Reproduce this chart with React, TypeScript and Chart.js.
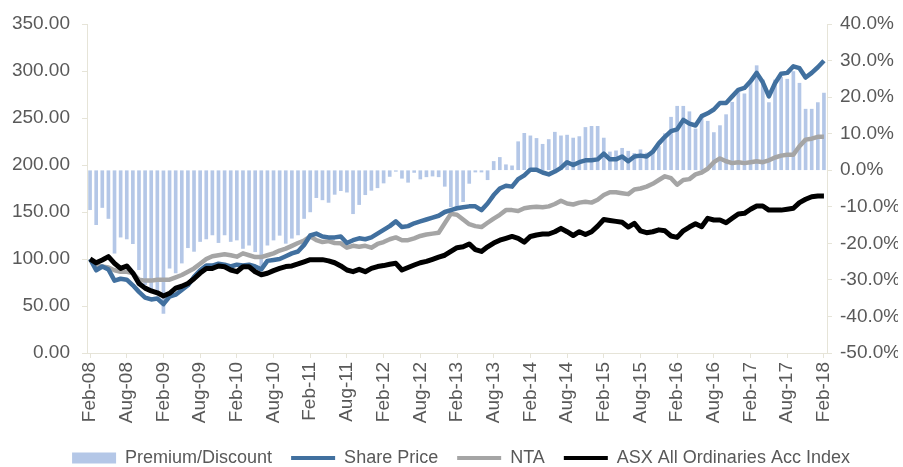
import React, { useEffect, useRef } from 'react';
import { Chart, registerables } from 'chart.js';

Chart.register(...registerables);

const MONTH_NAMES = ['Jan', 'Feb', 'Mar', 'Apr', 'May', 'Jun', 'Jul', 'Aug', 'Sep', 'Oct', 'Nov', 'Dec'];

// Monthly categories Feb-08 .. Feb-18
const categories: string[] = [];
for (let i = 0; i < 121; i++) {
  const m = (1 + i) % 12;
  const y = 8 + Math.floor((1 + i) / 12);
  categories.push(`${MONTH_NAMES[m]}-${String(y).padStart(2, '0')}`);
}

// Premium / Discount (%), right axis
const premiumDiscount: number[] = [
  -10.8, -14.9, -10.2, -13.2, -22.7, -18.3, -18.8, -20.1, -27.2, -31.3,
  -32.7, -33.5, -39.2, -26.8, -28.1, -25.4, -21.2, -22.2, -19.5, -18.8,
  -17.7, -19.8, -17.7, -19.5, -19.1, -21.4, -20.5, -22.3, -26.2, -20.5,
  -19.1, -17.8, -20.0, -18.6, -17.7, -13.2, -11.4, -7.5, -8.1, -8.8,
  -6.6, -5.6, -6.0, -11.9, -9.4, -6.7, -5.5, -4.8, -3.5, -1.7,
  -0.3, -2.2, -3.3, -0.6, -2.4, -1.8, -1.6, -1.8, -4.4, -10.0,
  -10.0, -8.6, -3.6, -0.5, -0.5, -2.6, 2.4, 3.5, 1.5, 1.2,
  7.8, 10.1, 9.4, 8.7, 7.1, 8.4, 10.4, 9.4, 9.6, 8.8,
  9.2, 11.7, 12.0, 12.0, 8.8, 5.0, 5.3, 6.0, 5.2, 4.6,
  5.6, 4.7, 5.3, 6.5, 10.0, 14.5, 17.5, 17.5, 16.0, 11.3,
  14.3, 13.4, 10.3, 12.2, 15.2, 18.6, 21.4, 20.9, 23.8, 28.6,
  24.7, 18.5, 24.7, 25.4, 24.9, 27.0, 23.8, 16.7, 16.7, 18.5,
  21.1,
];

// Share Price (indexed), left axis
const sharePrice: number[] = [
  100, 88, 92, 89, 77, 79, 78, 72, 65, 59,
  57, 58, 52, 60, 62, 67, 72, 81, 88, 93,
  93, 95, 94, 92, 94, 93, 94, 92, 89, 98,
  99, 100, 103, 106, 108, 115, 125, 127, 124, 123,
  123, 124, 117, 120, 122, 121, 123, 127, 131, 135,
  140, 134, 135, 138, 140, 142, 144, 146, 150, 152,
  154, 155, 156, 156, 152, 159, 168, 175, 178, 177,
  185, 189, 195, 195, 192, 190, 193, 197, 203, 200,
  203, 205, 205, 206, 212, 206, 206, 209, 204, 209,
  210, 209, 214, 223, 230, 236, 238, 248, 244, 242,
  252, 255, 259, 266, 266, 273, 280, 282, 289, 298,
  288, 273, 287, 297, 298, 305, 303, 293, 298, 304,
  311,
];

// NTA (indexed), left axis
const nta: number[] = [
  100, 93, 92, 91, 88, 86.5, 86.5, 85, 78, 77,
  77, 78, 78, 78, 80.5, 83, 86.5, 90, 95, 100,
  103, 104, 105, 104, 102.5, 106, 104, 102, 102, 104,
  106, 109, 111, 114, 117, 119.5, 124, 120, 118, 119,
  117, 116.7, 112, 114, 113, 114, 112, 116, 118, 121,
  123, 120, 120, 122, 124.5, 126, 127, 128, 138, 148,
  147, 142, 137, 135, 134, 138.6, 143, 147, 152, 152,
  151, 154, 155, 155.6, 155, 156, 158.5, 162, 159, 158,
  160, 161, 160, 163, 168, 171, 171, 170, 169, 174,
  175, 177, 180, 184, 188, 186, 179, 184, 185, 190,
  192, 196, 203, 207, 204, 202, 203, 202, 203, 204,
  203, 205, 208, 210, 211, 211, 220, 227, 228, 230,
  230,
];

// ASX All Ordinaries Accumulation Index (indexed), left axis
const asxIndex: number[] = [
  100, 96, 99, 102.5, 95.4, 90, 92.6, 85, 74, 69,
  66, 64, 60.6, 63.5, 69, 71, 74, 79, 85, 90,
  90, 92.6, 91.8, 88.3, 86.5, 91.8, 91.8, 86.5, 83.3, 84.8,
  87.6, 90, 92, 92.6, 94.7, 97, 99.3, 99.3, 99.3, 98,
  96, 92.6, 88.3, 86.5, 89, 86.5, 90, 92, 93, 94.4,
  95.4, 88.3, 91, 93.6, 96, 97.5, 99.7, 102, 104, 108,
  112, 113, 116, 110, 108, 113, 117, 120, 122, 124,
  122, 118, 124, 125.5, 126.6, 126.6, 129, 132.6, 129, 125,
  129, 126, 129, 135, 142, 141, 140, 139, 134, 138,
  130, 128, 129, 131, 130, 124.5, 123, 130, 134, 137.5,
  134.4, 143.3, 141.5, 141.5, 138.6, 143.3, 147.9, 148.6, 152.9, 156.4,
  156.4, 152, 152, 152, 153, 154, 160, 163.5, 166.3, 167,
  167,
];

const leftTicks = { min: 0, max: 350, step: 50 };
const rightTicks = { min: -50, max: 40, step: 10 };

const FONT = "'Liberation Sans', Arial, sans-serif";
const TEXT = '#595959';
const AXIS = '#E6E4D8';
const BAR_COLOR = '#B4C7E7';
const SHARE_COLOR = '#41709F';
const NTA_COLOR = '#A5A5A5';
const ASX_COLOR = '#000000';

// nudges the legend row slightly right, as in the reference
const legendShift = {
  id: 'legendShift',
  afterLayout(chart: any) {
    const l = chart.legend;
    if (l) l.left += 24;
  },
};

export default function App() {
  const ref = useRef<HTMLCanvasElement | null>(null);

  useEffect(() => {
    document.body.style.margin = '0';
    const canvas = ref.current;
    if (!canvas) return;
    const chart = new Chart(canvas, {
      data: {
        labels: categories,
        datasets: [
          {
            type: 'bar',
            label: 'Premium/Discount',
            data: premiumDiscount,
            yAxisID: 'y1',
            backgroundColor: BAR_COLOR,
            barThickness: 3,
            order: 4,
          },
          {
            type: 'line',
            label: 'Share Price',
            data: sharePrice,
            yAxisID: 'y',
            borderColor: SHARE_COLOR,
            backgroundColor: SHARE_COLOR,
            borderWidth: 4.5,
            pointRadius: 0,
            tension: 0,
            borderJoinStyle: 'round',
            order: 2,
          },
          {
            type: 'line',
            label: 'NTA',
            data: nta,
            yAxisID: 'y',
            borderColor: NTA_COLOR,
            backgroundColor: NTA_COLOR,
            borderWidth: 4.5,
            pointRadius: 0,
            tension: 0,
            borderJoinStyle: 'round',
            order: 3,
          },
          {
            type: 'line',
            label: 'ASX All Ordinaries Acc Index',
            data: asxIndex,
            yAxisID: 'y',
            borderColor: ASX_COLOR,
            backgroundColor: ASX_COLOR,
            borderWidth: 5,
            pointRadius: 0,
            tension: 0,
            borderJoinStyle: 'round',
            order: 1,
          },
        ],
      } as any,
      options: {
        animation: false,
        responsive: false,
        maintainAspectRatio: false,
        layout: { padding: { top: 24, left: 0, right: 5, bottom: -10 } },
        plugins: {
          tooltip: { enabled: false },
          legend: {
            position: 'bottom',
            labels: {
              usePointStyle: true,
              pointStyleWidth: 44,
              boxHeight: 11,
              padding: 19,
              color: TEXT,
              font: { size: 18, family: FONT },
              generateLabels: (c: any) =>
                c.data.datasets.map((ds: any, i: number) => ({
                  text: ds.label,
                  datasetIndex: i,
                  fillStyle: i === 0 ? BAR_COLOR : ds.borderColor,
                  strokeStyle: i === 0 ? BAR_COLOR : ds.borderColor,
                  lineWidth: i === 0 ? 0 : 4,
                  pointStyle: i === 0 ? 'rect' : 'line',
                  hidden: false,
                  fontColor: TEXT,
                })),
            },
          },
        },
        scales: {
          x: {
            offset: true,
            grid: {
              display: true,
              drawOnChartArea: false,
              offset: false,
              tickLength: 5,
              color: (ctx: any) => (ctx.index % 6 === 0 ? AXIS : 'rgba(0,0,0,0)'),
            },
            border: { color: AXIS, width: 1 },
            ticks: {
              autoSkip: false,
              minRotation: 90,
              maxRotation: 90,
              padding: 4,
              color: TEXT,
              font: { size: 19, family: FONT },
              callback: (_v: any, i: number) => (i % 6 === 0 ? categories[i] : ''),
            },
            afterFit: (s: any) => {
              s.height = 77;
            },
          },
          y: {
            position: 'left',
            min: leftTicks.min,
            max: leftTicks.max,
            grid: { drawOnChartArea: false, tickLength: 5, color: AXIS },
            border: { color: AXIS, width: 1 },
            ticks: {
              stepSize: leftTicks.step,
              padding: 12,
              color: TEXT,
              font: { size: 19, family: FONT },
              callback: (v: any) => Number(v).toFixed(2),
            },
            afterFit: (s: any) => {
              s.width = 87;
            },
          },
          y1: {
            position: 'right',
            min: rightTicks.min,
            max: rightTicks.max,
            grid: { drawOnChartArea: false, tickLength: 5, color: AXIS },
            border: { color: AXIS, width: 1 },
            ticks: {
              stepSize: rightTicks.step,
              padding: 8,
              color: TEXT,
              font: { size: 19, family: FONT },
              callback: (v: any) => Number(v).toFixed(1) + '%',
            },
            afterFit: (s: any) => {
              s.width = 71;
            },
          },
        },
      } as any,
      plugins: [legendShift],
    });
    return () => chart.destroy();
  }, []);

  return (
    <div style={{ width: 903, height: 467, background: '#ffffff' }}>
      <canvas ref={ref} width={903} height={467} style={{ display: 'block' }} />
    </div>
  );
}
